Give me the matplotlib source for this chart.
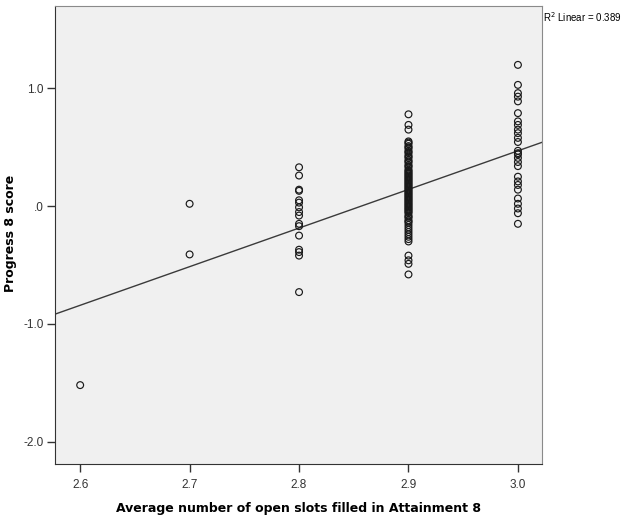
import numpy as np
import matplotlib.pyplot as plt

# scores, one list per x column
x_vals = [2.6, 2.7, 2.8, 2.9, 3.0]
p8_26 = [-1.52]
p8_27 = [0.02, -0.41]
p8_28 = [0.33, 0.26, 0.14, 0.13, 0.05, 0.03, -0.01, -0.05, -0.08, -0.15, -0.17,
         -0.25, -0.37, -0.39, -0.42, -0.73]
p8_29 = [0.78, 0.69, 0.65, 0.55, 0.54, 0.53, 0.51, 0.50, 0.49, 0.47, 0.46, 0.45,
         0.43, 0.42, 0.41, 0.39, 0.38, 0.37, 0.35, 0.34, 0.33, 0.31, 0.30, 0.29,
         0.28, 0.27, 0.26, 0.25, 0.24, 0.23, 0.22, 0.21, 0.20, 0.19, 0.18, 0.17,
         0.16, 0.15, 0.14, 0.13, 0.12, 0.11, 0.10, 0.09, 0.08, 0.07, 0.06, 0.05,
         0.04, 0.03, 0.02, 0.01, 0.00, -0.01, -0.02, -0.03, -0.04, -0.05, -0.06,
         -0.08, -0.09, -0.10, -0.12, -0.13, -0.14, -0.16, -0.18, -0.20, -0.22,
         -0.24, -0.26, -0.28, -0.30, -0.42, -0.46, -0.49, -0.58]
p8_30 = [1.20, 1.03, 0.96, 0.93, 0.89, 0.79, 0.72, 0.69, 0.65, 0.62, 0.58, 0.545,
         0.47, 0.45, 0.44, 0.41, 0.375, 0.34, 0.25, 0.21, 0.18, 0.14, 0.065, 0.02,
         -0.02, -0.06, -0.15]
columns = [p8_26, p8_27, p8_28, p8_29, p8_30]

# fit line as drawn (intercept, slope)
fit_a = -9.37
fit_b = 3.28
r2_label = "0.389"

fig = plt.figure(figsize=(6.31, 5.19), dpi=100)
ax = fig.add_axes([55/631, 55/519, 487/631, 458/519])
ax.set_facecolor('#f0f0f0')

for xv, ys in zip(x_vals, columns):
    ax.scatter([xv]*len(ys), ys, s=24, facecolors='none', edgecolors='#1a1a1a',
               linewidths=0.85, zorder=3)

xmin, xmax = 2.577, 3.022
xs = np.array([xmin, xmax])
ax.plot(xs, fit_a + fit_b*xs, color='#3a3a3a', lw=1.0, zorder=2)

ax.set_xlim(xmin, xmax)
ax.set_ylim(-2.19, 1.70)
ax.set_xticks(x_vals)
ax.set_xticklabels(['2.6', '2.7', '2.8', '2.9', '3.0'])
ax.set_yticks([1.0, 0.0, -1.0, -2.0])
ax.set_yticklabels(['1.0', '.0', '-1.0', '-2.0'])
ax.tick_params(direction='out', length=6, width=1, color='#333333',
               labelsize=8.5, labelcolor='#333333')
ax.tick_params(axis='x', pad=5)
ax.tick_params(axis='y', pad=2)
for lab in ax.get_xticklabels() + ax.get_yticklabels():
    lab.set_family('Liberation Sans')
for s in ['left', 'bottom']:
    ax.spines[s].set_color('#333333')
for s in ['top', 'right']:
    ax.spines[s].set_color('#8a8a8a')

ax.set_xlabel('Average number of open slots filled in Attainment 8',
              fontsize=9, fontweight='bold')
ax.set_ylabel('Progress 8 score', fontsize=9, fontweight='bold')
ax.xaxis.set_label_coords((298 - 55)/487, -(502 - 464)/458)
ax.yaxis.set_label_coords((17 - 55)/487, (464 - 233)/458)

fig.text(543/631, 1 - 17/519, r'R$^2$ Linear = ' + r2_label, fontsize=7,
         family='Liberation Sans', va='center', ha='left')

fig.savefig('out.png', dpi=100)
